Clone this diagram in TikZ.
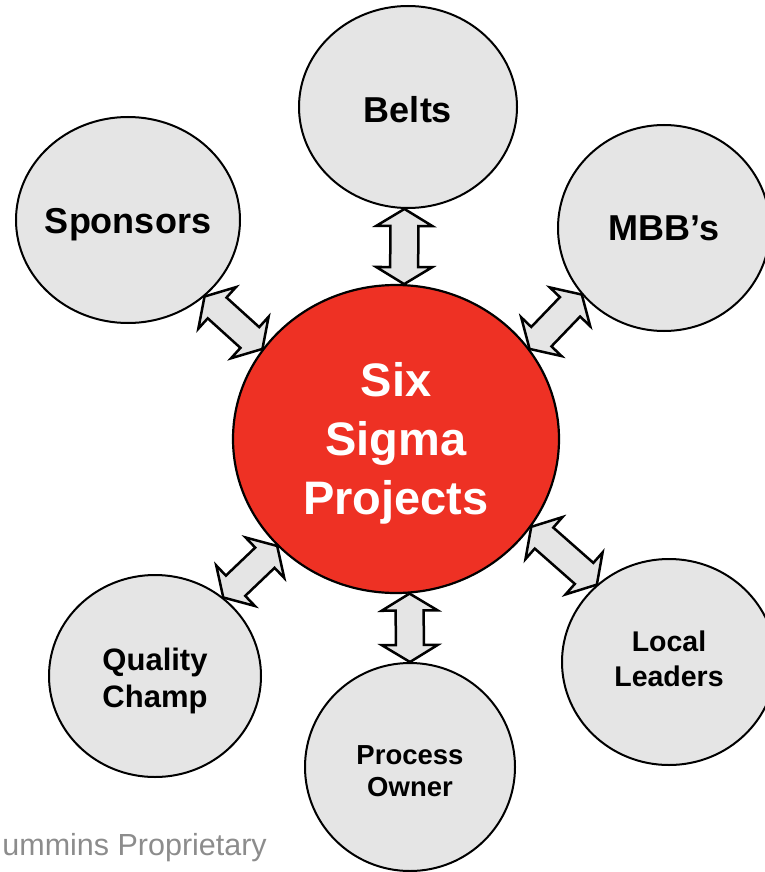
\documentclass[tikz,border=0pt]{standalone}
\usepackage{fontspec}
\setmainfont{Liberation Sans}
\usetikzlibrary{shapes.geometric,calc}

\definecolor{sigmared}{RGB}{238,49,36}
\definecolor{bubblegray}{RGB}{229,229,229}
\definecolor{footgray}{RGB}{140,140,140}

% block arrow with a head at both ends, tip to tip
\newcommand{\twowayarrow}[2]{%
  \coordinate (h1) at ($(#1)!17pt!(#2)$);
  \coordinate (h2) at ($(#2)!17pt!(#1)$);
  \draw[twoway] (#1) -- ($(h1)!28pt!90:(#2)$) -- ($(h1)!14pt!90:(#2)$)
    -- ($(h2)!14pt!-90:(#1)$) -- ($(h2)!28pt!-90:(#1)$) -- (#2)
    -- ($(h2)!28pt!90:(#1)$) -- ($(h2)!14pt!90:(#1)$)
    -- ($(h1)!14pt!-90:(#2)$) -- ($(h1)!28pt!-90:(#2)$) -- cycle;}

\begin{document}
\begin{tikzpicture}[x=1pt,y=-1pt,
                    bubble/.style={ellipse,draw,line width=2pt,fill=bubblegray,inner sep=0pt},
                    tag/.style 2 args={align=center,inner sep=0pt,font=\bfseries\fontsize{#1}{#2}\selectfont},
                    twoway/.style={draw,line width=2.5pt,line join=miter,fill=bubblegray}]
  \tikzstyle{core}=[bubble,fill=sigmared,line width=2.2pt]
  \tikzstyle{footer}=[inner sep=0pt,text=footgray,font=\fontsize{30.5}{36}\selectfont]

  \useasboundingbox (0,0) rectangle (765,872);

  \node[core,minimum width=326pt,minimum height=308pt,
        label={[tag={47}{59},text=white,yshift=-4pt]center:Six\\Sigma\\Projects}]
        (six) at (396,439) {};

  \node[bubble,minimum width=218pt,minimum height=202pt,
        label={[tag={36}{42},yshift=-3pt]center:Belts}] (belts) at (408,107) {};
  \node[bubble,minimum width=224pt,minimum height=206pt,
        label={[tag={36}{42},yshift=-5pt]center:Sponsors}] (spon) at (128,220) {};
  \node[bubble,minimum width=212pt,minimum height=206pt,
        label={[tag={36}{42}]center:MBB’s}] (mbb) at (664,228) {};
  \node[bubble,minimum width=212pt,minimum height=202pt,
        label={[tag={31}{37},yshift=-5pt]center:Quality\\Champ}] (qual) at (155,676) {};
  \node[bubble,minimum width=210pt,minimum height=208pt,
        label={[tag={27.5}{32},yshift=-4pt]center:Process\\Owner}] (proc) at (410,767) {};
  \node[bubble,minimum width=214pt,minimum height=206pt,
        label={[tag={28.5}{35},yshift=3pt]center:Local\\Leaders}] (loc) at (669,662) {};

  \foreach \p/\q in {belts.-92/six.87, spon.-45/six.146, mbb.-141/six.34,
                     qual.49/six.222, loc.133/six.-33, proc.90/six.-85}
    \twowayarrow{\p}{\q};

  \node[footer,anchor=base east] (foot) at (267,855) {ummins Proprietary};
\end{tikzpicture}
\end{document}
